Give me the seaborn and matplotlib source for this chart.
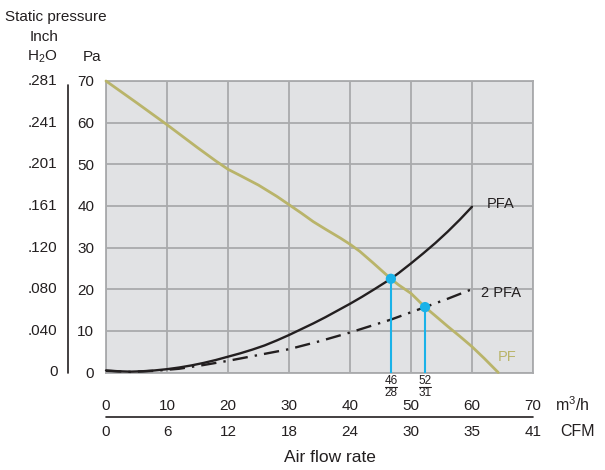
import matplotlib
matplotlib.use("Agg")
import matplotlib.pyplot as plt
import matplotlib.transforms as mtransforms
import seaborn as sns
import pandas as pd

# curve readings (m3/h, Pa)
pf_flow = [0, 5, 10, 15, 18, 20, 22, 25, 28, 30, 32, 34, 36, 38.4, 40, 41.6, 43.8, 46.7,
           48, 50, 52.3, 54, 56, 58, 60, 62, 64.3]
pf_pres = [70, 64.8, 59.5, 54.0, 50.8, 48.8, 47.3, 45.0, 42.3, 40.3, 38.3, 36.2, 34.4,
           32.3, 30.8, 29.1, 26.3, 22.5, 21.0, 19.0, 15.7, 13.6, 11.1, 8.7, 6.2, 3.4, 0]

pfa_flow = [0, 2, 4, 6, 8, 10, 12, 14, 16, 18, 20, 22, 24, 26, 28, 30, 32, 34, 36, 38,
            40, 42, 44, 46.7, 48, 50, 52, 54, 56, 58, 60]
pfa_pres = [0.5, 0.3, 0.2, 0.3, 0.5, 0.8, 1.2, 1.7, 2.3, 3.0, 3.8, 4.6, 5.5, 6.5, 7.7,
            9.0, 10.4, 11.8, 13.3, 14.9, 16.5, 18.2, 20.0, 22.5, 23.9, 26.2, 28.6, 31.1,
            33.8, 36.7, 39.8]

pfa2_flow = [0, 4, 8, 12, 16, 20, 25, 30, 35, 40, 46.7, 52.3, 56, 60]
pfa2_pres = [0.4, 0.15, 0.4, 0.9, 1.8, 2.8, 4.2, 5.6, 7.5, 9.6, 12.7, 15.7, 17.7, 20.0]

op_flow = [46.7, 52.3]
op_pres = [22.5, 15.7]
op_num = ["46", "52"]
op_den = ["28", "31"]

m3h_ticks = [0, 10, 20, 30, 40, 50, 60, 70]
cfm_labels = ["0", "6", "12", "18", "24", "30", "35", "41"]
pa_ticks = [0, 10, 20, 30, 40, 50, 60, 70]
inch_labels = ["0", ".040", ".080", ".120", ".161", ".201", ".241", ".281"]

OLIVE = "#b9b46a"
BLUE = "#1ab2e8"
GRID = "#a9aaac"
INK = "#231f20"

sns.set_style("white")
plt.rcParams["font.family"] = ["Liberation Sans", "DejaVu Sans"]
plt.rcParams["mathtext.fontset"] = "custom"
plt.rcParams["mathtext.rm"] = "Liberation Sans"
plt.rcParams["text.color"] = INK

fig = plt.figure(figsize=(6.05, 4.70), dpi=100)
W, H = 605, 470
ax = fig.add_axes([106 / W, 1 - 372.5 / H, 427 / W, 291.5 / H])
ax.set_facecolor("#e1e2e4")

df_pf = pd.DataFrame({"flow": pf_flow, "pres": pf_pres})
df_pfa = pd.DataFrame({"flow": pfa_flow, "pres": pfa_pres})
df_pfa2 = pd.DataFrame({"flow": pfa2_flow, "pres": pfa2_pres})
df_op = pd.DataFrame({"flow": op_flow, "pres": op_pres})

sns.lineplot(data=df_pf, x="flow", y="pres", ax=ax, color=OLIVE, lw=2.0,
             sort=False, estimator=None, clip_on=False, zorder=3)
sns.lineplot(data=df_pfa, x="flow", y="pres", ax=ax, color=INK, lw=1.7,
             sort=False, estimator=None, clip_on=False, zorder=4)
sns.lineplot(data=df_pfa2, x="flow", y="pres", ax=ax, color=INK, lw=1.7,
             sort=False, estimator=None, clip_on=False, zorder=4)
ax.lines[-1].set_linestyle((0, (6.5, 3, 1, 3)))

ax.vlines(op_flow, 0, op_pres, color=BLUE, lw=1.5, zorder=5)
sns.scatterplot(data=df_op, x="flow", y="pres", ax=ax, color=BLUE, s=55,
                edgecolor="none", zorder=6, clip_on=False)

ax.set_xlim(0, 70)
ax.set_ylim(0, 70)
ax.set_xticks(m3h_ticks)
ax.set_yticks(pa_ticks)
ax.grid(True, color=GRID, lw=1.3)
ax.set_axisbelow(True)
for s in ax.spines.values():
    s.set_color(GRID)
    s.set_linewidth(1.3)
ax.tick_params(axis="both", length=0, labelsize=11, colors=INK)
ax.tick_params(axis="y", pad=8.5)
ax.tick_params(axis="x", pad=19)
ax.set_xlabel("")
ax.set_ylabel("")

# curve labels
ax.text(62.5, 40.5, "PFA", fontsize=10.5, va="center", ha="left")
ax.text(61.5, 19, "2 PFA", fontsize=10.5, va="center", ha="left")
ax.text(64.2, 3.7, "PF", fontsize=10.5, va="center", ha="left", color=OLIVE)

# left inch H2O scale
tr_y = mtransforms.blended_transform_factory(fig.transFigure, ax.transData)
for v, lab in zip(pa_ticks, inch_labels):
    fig.text(57.5 / W, v, lab, transform=tr_y, ha="right", va="center", fontsize=11)
fig.add_artist(plt.Line2D([68 / W, 68 / W], [1 - 85 / H, 1 - 373 / H], color=INK, lw=1.2))

fig.text(5 / W, 1 - 17 / H, "Static pressure", fontsize=11, ha="left", va="center")
fig.text(30 / W, 1 - 37 / H, "Inch", fontsize=11, ha="left", va="center")
fig.text(27 / W, 1 - 57 / H, r"H$_\mathregular{2}$O", fontsize=11, ha="left", va="center")
fig.text(83 / W, 1 - 57 / H, "Pa", fontsize=11, ha="left", va="center")

# bottom scales
tr_x = mtransforms.blended_transform_factory(ax.transData, fig.transFigure)
ax.add_artist(plt.Line2D([0, 70], [1 - 417 / H, 1 - 417 / H], transform=tr_x,
                         color=INK, lw=1.2, clip_on=False))
for v, lab in zip(m3h_ticks, cfm_labels):
    fig.text(v, 1 - 432 / H, lab, transform=tr_x, ha="center", va="center", fontsize=11)
fig.text(555 / W, 1 - 405 / H, r"m$^\mathregular{3}$/h", fontsize=11.5, ha="left", va="center")
fig.text(560 / W, 1 - 432 / H, "CFM", fontsize=11.5, ha="left", va="center")
fig.text(330 / W, 1 - 458 / H, "Air flow rate", fontsize=12.5, ha="center", va="center")

# operating point fractions
for x, num, den in zip(op_flow, op_num, op_den):
    fig.text(x, 1 - 381 / H, num, transform=tr_x, ha="center", va="center", fontsize=8.5)
    fig.text(x, 1 - 393 / H, den, transform=tr_x, ha="center", va="center", fontsize=8.5)
    ax.add_artist(plt.Line2D([x - 1.0, x + 1.0], [1 - 387 / H, 1 - 387 / H], transform=tr_x,
                             color=INK, lw=0.8, clip_on=False))

fig.savefig("out.png", dpi=100)
